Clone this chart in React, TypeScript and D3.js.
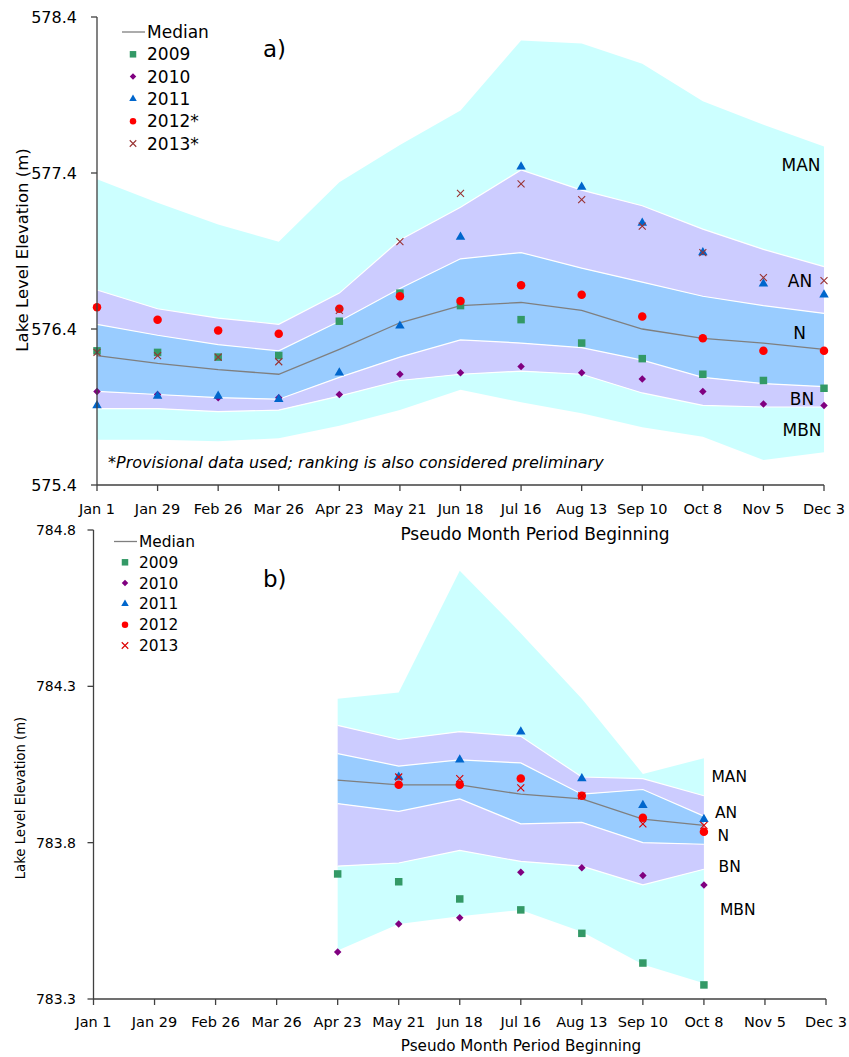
import React from "react";
import * as d3 from "d3";

const categories = ["Jan 1","Jan 29","Feb 26","Mar 26","Apr 23","May 21","Jun 18","Jul 16","Aug 13","Sep 10","Oct 8","Nov 5","Dec 3"];

// Panel a
const aTop = [577.36, 577.21, 577.07, 576.96, 577.34, 577.58, 577.80, 578.25, 578.23, 578.10, 577.86, 577.71, 577.57];
const aManAn = [576.65, 576.53, 576.47, 576.43, 576.63, 576.97, 577.18, 577.42, 577.29, 577.19, 577.04, 576.91, 576.80];
const aAnN = [576.43, 576.36, 576.30, 576.26, 576.45, 576.66, 576.85, 576.89, 576.79, 576.70, 576.61, 576.55, 576.50];
const aMedian = [576.23, 576.18, 576.14, 576.11, 576.27, 576.44, 576.55, 576.57, 576.52, 576.40, 576.34, 576.31, 576.27];
const aNBn = [576.00, 575.98, 575.96, 575.95, 576.09, 576.22, 576.33, 576.31, 576.28, 576.20, 576.09, 576.05, 576.03];
const aBnMbn = [575.89, 575.89, 575.87, 575.88, 575.97, 576.07, 576.11, 576.13, 576.11, 575.99, 575.91, 575.90, 575.90];
const aBottom = [575.69, 575.69, 575.68, 575.70, 575.78, 575.88, 576.01, 575.93, 575.86, 575.77, 575.71, 575.56, 575.61];
const a2009 = [576.26, 576.25, 576.22, 576.23, 576.45, 576.63, 576.55, 576.46, 576.31, 576.21, 576.11, 576.07, 576.02];
const a2010 = [576.00, 575.98, 575.96, 575.96, 575.98, 576.11, 576.12, 576.16, 576.12, 576.08, 576.00, 575.92, 575.91];
const a2011 = [575.91, 575.97, 575.97, 575.95, 576.12, 576.42, 576.99, 577.44, 577.31, 577.08, 576.89, 576.69, 576.62];
const a2012 = [576.54, 576.46, 576.39, 576.37, 576.53, 576.61, 576.58, 576.68, 576.62, 576.48, 576.34, 576.26, 576.26];
const a2013 = [576.25, 576.23, 576.22, 576.19, 576.52, 576.96, 577.27, 577.33, 577.23, 577.06, 576.89, 576.73, 576.71];
const aTicks = [575.4, 576.4, 577.4, 578.4];
const aLegend = ["Median", "2009", "2010", "2011", "2012*", "2013*"];

// Panel b
const N = null;
const bTop = [N, N, N, N, 784.26, 784.28, 784.67, 784.47, 784.26, 784.02, 784.07, N, N];
const bManAn = [N, N, N, N, 784.175, 784.13, 784.155, 784.14, 784.01, 784.005, 783.95, N, N];
const bAnN = [N, N, N, N, 784.085, 784.045, 784.065, 784.055, 783.955, 783.97, 783.885, N, N];
const bMedian = [N, N, N, N, 784.0, 783.985, 783.985, 783.955, 783.94, 783.875, 783.855, N, N];
const bNBn = [N, N, N, N, 783.925, 783.90, 783.94, 783.86, 783.865, 783.80, 783.795, N, N];
const bBnMbn = [N, N, N, N, 783.725, 783.735, 783.775, 783.74, 783.725, 783.665, 783.715, N, N];
const bBottom = [N, N, N, N, 783.455, 783.54, 783.565, 783.585, 783.515, 783.41, 783.35, N, N];
const b2009 = [N, N, N, N, 783.70, 783.675, 783.62, 783.585, 783.51, 783.415, 783.345, N, N];
const b2010 = [N, N, N, N, 783.45, 783.54, 783.56, 783.705, 783.72, 783.695, 783.665, N, N];
const b2011 = [N, N, N, N, N, 784.01, 784.065, 784.155, 784.005, 783.92, 783.875, N, N];
const b2012 = [N, N, N, N, N, 783.985, 783.985, 784.005, 783.95, 783.88, 783.835, N, N];
const b2013 = [N, N, N, N, N, 784.01, 784.005, 783.975, 783.95, 783.86, 783.855, N, N];
const bTicks = [783.3, 783.8, 784.3, 784.8];
const bLegend = ["Median", "2009", "2010", "2011", "2012", "2013"];

const FONT = "DejaVu Sans";
const CYAN = "#CCFFFF";
const LAV = "#CCCCFF";
const BLUE = "#99CCFF";

type Marker = "square" | "diamond" | "triangle" | "circle" | "x";

function markerPath(kind: Marker, s: number): string {
  if (kind === "square") return d3.symbol(d3.symbolSquare, s * s)() as string;
  if (kind === "diamond") {
    const h = s / 2;
    return `M0,${-h}L${h},0L0,${h}L${-h},0Z`;
  }
  if (kind === "triangle") return d3.symbol(d3.symbolTriangle, (s * s * Math.sqrt(3)) / 4)() as string;
  if (kind === "circle") return d3.symbol(d3.symbolCircle, Math.PI * (s / 2) * (s / 2))() as string;
  const h = s / 2;
  return `M${-h},${-h}L${h},${h}M${-h},${h}L${h},${-h}`;
}

function MarkerShape({ kind, color, s, x, y }: { kind: Marker; color: string; s: number; x: number; y: number }) {
  const d = markerPath(kind, s);
  if (kind === "x") return <path d={d} transform={`translate(${x},${y})`} fill="none" stroke={color} strokeWidth={1.1} />;
  return <path d={d} transform={`translate(${x},${y})`} fill={color} />;
}

type Series = { name: string; values: (number | null)[]; kind: Marker; color: string; size: number };

function Panel(props: {
  x0: number; x1: number; yTop: number; yBot: number; domain: [number, number]; ticks: number[];
  bounds: (number | null)[][]; median: (number | null)[]; series: Series[];
  yTickSize: number; yTickRight: number; xTickSize: number; xTickY: number;
  title: string; titleX: number; titleY: number; titleSize: number;
  yTitle: string; yTitleX: number; yTitleY: number; yTitleSize: number;
  legend: string[]; legX: number; legY: number; legStep: number; legSize: number;
  tag: string; tagX: number; tagY: number;
  bandLabels: { t: string; x: number; y: number }[]; bandAnchor: string; bandSize: number;
}) {
  const x = d3.scalePoint<string>().domain(categories).range([props.x0, props.x1]);
  const y = d3.scaleLinear().domain(props.domain).range([props.yBot, props.yTop]);
  const idx = categories.map((_, i) => i);
  const fills = [CYAN, LAV, BLUE, LAV, CYAN];
  const areas = fills.map((c, k) => {
    const up = props.bounds[k];
    const lo = props.bounds[k + 1];
    const gen = d3.area<number>()
      .defined((i) => up[i] != null && lo[i] != null)
      .x((i) => x(categories[i]) as number)
      .y0((i) => y(lo[i] as number))
      .y1((i) => y(up[i] as number));
    return <path key={k} d={gen(idx) as string} fill={c} stroke="none" />;
  });
  const lineOf = (vals: (number | null)[]) =>
    d3.line<number>().defined((i) => vals[i] != null).x((i) => x(categories[i]) as number).y((i) => y(vals[i] as number))(idx) as string;
  const whiteLines = [1, 2, 3, 4].map((k) => (
    <path key={k} d={lineOf(props.bounds[k])} fill="none" stroke="#FFFFFF" strokeWidth={1.2} />
  ));
  return (
    <g fontFamily={FONT}>
      {areas}
      {whiteLines}
      <path d={lineOf(props.median)} fill="none" stroke="#7F7F7F" strokeWidth={1.3} />
      {props.series.map((s) =>
        s.values.map((v, i) =>
          v == null ? null : (
            <MarkerShape key={s.name + i} kind={s.kind} color={s.color} s={s.size} x={x(categories[i]) as number} y={y(v)} />
          )
        )
      )}
      <line x1={props.x0} x2={props.x0} y1={props.yTop} y2={props.yBot} stroke="#404040" strokeWidth={1.3} />
      <line x1={props.x0} x2={props.x1} y1={props.yBot} y2={props.yBot} stroke="#404040" strokeWidth={1.3} />
      {props.ticks.map((t) => (
        <g key={t}>
          <line x1={props.x0 - 6} x2={props.x0} y1={y(t)} y2={y(t)} stroke="#404040" strokeWidth={1.3} />
          <text x={props.yTickRight} y={y(t)} dy="0.36em" textAnchor="end" fontSize={props.yTickSize} fill="#000">
            {d3.format(".1f")(t)}
          </text>
        </g>
      ))}
      {categories.map((c) => (
        <g key={c}>
          <line x1={x(c)} x2={x(c)} y1={props.yBot} y2={props.yBot + 6} stroke="#404040" strokeWidth={1.3} />
          <text x={x(c)} y={props.xTickY} dy="0.36em" textAnchor="middle" fontSize={props.xTickSize} fill="#000">
            {c}
          </text>
        </g>
      ))}
      <text x={props.titleX} y={props.titleY} dy="0.36em" textAnchor="middle" fontSize={props.titleSize} fill="#000">
        {props.title}
      </text>
      <text
        transform={`translate(${props.yTitleX},${props.yTitleY}) rotate(-90)`}
        dy="0.36em" textAnchor="middle" fontSize={props.yTitleSize} fill="#000"
      >
        {props.yTitle}
      </text>
      {props.legend.map((name, k) => {
        const ly = props.legY + k * props.legStep;
        const mx = props.legX + 11;
        return (
          <g key={name}>
            {k === 0 ? (
              <line x1={props.legX} x2={props.legX + 23} y1={ly} y2={ly} stroke="#7F7F7F" strokeWidth={1.3} />
            ) : (
              <MarkerShape kind={props.series[k - 1].kind} color={props.series[k - 1].color} s={props.series[k - 1].kind === "triangle" ? 7.5 : 6.5} x={mx} y={ly} />
            )}
            <text x={props.legX + 25} y={ly} dy="0.36em" fontSize={props.legSize} fill="#000">
              {name}
            </text>
          </g>
        );
      })}
      <text x={props.tagX} y={props.tagY} dy="0.36em" fontSize={23} fill="#000">{props.tag}</text>
      {props.bandLabels.map((b) => (
        <text key={b.t} x={b.x} y={b.y} dy="0.36em" textAnchor={props.bandAnchor} fontSize={props.bandSize} fill="#000">
          {b.t}
        </text>
      ))}
    </g>
  );
}

export default function App() {
  const aSeries: Series[] = [
    { name: "2009", values: a2009, kind: "square", color: "#339966", size: 7.5 },
    { name: "2010", values: a2010, kind: "diamond", color: "#800080", size: 7.5 },
    { name: "2011", values: a2011, kind: "triangle", color: "#0066CC", size: 9.5 },
    { name: "2012", values: a2012, kind: "circle", color: "#FF0000", size: 8.5 },
    { name: "2013", values: a2013, kind: "x", color: "#993333", size: 7 },
  ];
  const bSeries: Series[] = [
    { name: "2009", values: b2009, kind: "square", color: "#339966", size: 7.5 },
    { name: "2010", values: b2010, kind: "diamond", color: "#800080", size: 7.5 },
    { name: "2011", values: b2011, kind: "triangle", color: "#0066CC", size: 9.5 },
    { name: "2012", values: b2012, kind: "circle", color: "#FF0000", size: 8.5 },
    { name: "2013", values: b2013, kind: "x", color: "#DD0000", size: 7 },
  ];
  return (
    <svg width={849} height={1057} style={{ position: "absolute", left: 0, top: 0, background: "#fff" }}>
      <rect width={849} height={1057} fill="#fff" />
      <Panel
        x0={97} x1={824} yTop={17} yBot={485} domain={[575.4, 578.4]} ticks={aTicks}
        bounds={[aTop, aManAn, aAnN, aNBn, aBnMbn, aBottom]} median={aMedian} series={aSeries}
        yTickSize={16} yTickRight={77} xTickSize={14.5} xTickY={509}
        title="Pseudo Month Period Beginning" titleX={535} titleY={534} titleSize={17}
        yTitle="Lake Level Elevation (m)" yTitleX={22} yTitleY={250} yTitleSize={16.5}
        legend={aLegend} legX={122} legY={32} legStep={22.3} legSize={17}
        tag="a)" tagX={263} tagY={49}
        bandLabels={[
          { t: "MAN", x: 801, y: 165 },
          { t: "AN", x: 800, y: 280.5 },
          { t: "N", x: 799.5, y: 332.5 },
          { t: "BN", x: 802, y: 399 },
          { t: "MBN", x: 802, y: 430 },
        ]}
        bandAnchor="middle" bandSize={17}
      />
      <text x={108} y={462} dy="0.36em" fontFamily={FONT} fontStyle="italic" fontSize={16} fill="#000">
        *Provisional data used; ranking is also considered preliminary
      </text>
      <Panel
        x0={93.5} x1={826} yTop={530} yBot={999} domain={[783.3, 784.8]} ticks={bTicks}
        bounds={[bTop, bManAn, bAnN, bNBn, bBnMbn, bBottom]} median={bMedian} series={bSeries}
        yTickSize={14} yTickRight={76} xTickSize={14.5} xTickY={1022}
        title="Pseudo Month Period Beginning" titleX={521} titleY={1046} titleSize={15.2}
        yTitle="Lake Level Elevation (m)" yTitleX={20} yTitleY={798} yTitleSize={13.2}
        legend={bLegend} legX={114} legY={541.5} legStep={20.8} legSize={15.4}
        tag="b)" tagX={263} tagY={579}
        bandLabels={[
          { t: "MAN", x: 711.5, y: 776.5 },
          { t: "AN", x: 715, y: 812.5 },
          { t: "N", x: 717.5, y: 835.5 },
          { t: "BN", x: 718.5, y: 866 },
          { t: "MBN", x: 720, y: 909.5 },
        ]}
        bandAnchor="start" bandSize={15.5}
      />
    </svg>
  );
}
